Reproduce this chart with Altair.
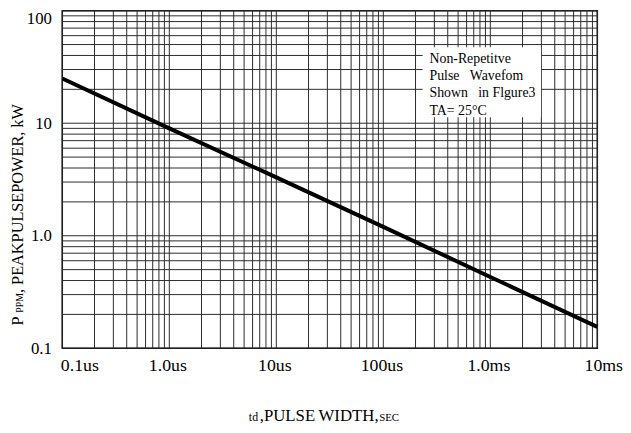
import altair as alt
import pandas as pd

# ---- data ----
pulse_width_s = [1e-7, 1e-6, 1e-5, 1e-4, 1e-3, 1e-2]
peak_power_kw = [25.0, 9.0, 3.3, 1.2, 0.43, 0.155]

x_decades = [1e-7, 1e-6, 1e-5, 1e-4, 1e-3, 1e-2]
x_labels = ["0.1us", "1.0us", "10us", "100us", "1.0ms", "10ms"]
y_decades = [0.1, 1.0, 10.0, 100.0]
y_labels = ["0.1", "1.0", "10", "100"]
minor_multiples = [1, 2, 3, 4, 5, 6, 7, 8, 9]

note_lines = [
    "Non-Repetitve",
    "Pulse\u00a0\u00a0\u00a0Wavefom",
    "Shown\u00a0\u00a0\u00a0in Flgure3",
    "TA= 25\u00b0C",
]

x_grid = [m * d for d in x_decades[:-1] for m in minor_multiples] + [x_decades[-1]]
y_grid = [m * d for d in y_decades[:-1] for m in minor_multiples] + [y_decades[-1]]

SERIF = "Liberation Serif"
W, H = 542, 342


def label_expr(values, labels):
    parts = []
    for v, lab in zip(values[:-1], labels[:-1]):
        parts.append(f"datum.value < {v * 3:.3e} ? '{lab}' : ")
    return "".join(parts) + f"'{labels[-1]}'"


xs = alt.Scale(type="log", domain=[x_decades[0], x_decades[-1]], nice=False)
ys = alt.Scale(type="log", domain=[y_decades[0], y_decades[-1]], nice=False)

x_axis = alt.Axis(
    values=x_decades,
    labelExpr=label_expr(x_decades, x_labels),
    grid=False, ticks=False, domain=False, title=None,
    labelFont=SERIF, labelFontSize=18, labelColor="black",
    labelPadding=8, labelFlush=False, labelOverlap=False,
    labelAlign={"condition": {"test": "datum.value < 2e-7", "value": "left"}, "value": "center"},
    labelOffset={"condition": {"test": "datum.value > 5e-3", "value": 6}, "value": -2},
)
y_axis = alt.Axis(
    values=y_decades,
    labelExpr=label_expr(y_decades, y_labels),
    grid=False, ticks=False, domain=False, title=None,
    labelFont=SERIF, labelFontSize=17, labelColor="black",
    labelPadding=11, labelFlush=False, labelOverlap=False,
    labelBaseline={"condition": {"test": "datum.value > 50", "value": "top"}, "value": "middle"},
)

vgrid = alt.Chart(pd.DataFrame({"gx": x_grid})).mark_rule(color="#2a2a2a", strokeWidth=1).encode(
    x=alt.X("gx:Q", scale=xs, axis=x_axis)
)
hgrid = alt.Chart(pd.DataFrame({"gy": y_grid})).mark_rule(color="#2a2a2a", strokeWidth=1).encode(
    y=alt.Y("gy:Q", scale=ys, axis=y_axis)
)

curve = alt.Chart(pd.DataFrame({"t": pulse_width_s, "p": peak_power_kw})).mark_line(
    color="black", strokeWidth=4, clip=True
).encode(
    x=alt.X("t:Q", scale=xs, axis=x_axis),
    y=alt.Y("p:Q", scale=ys, axis=y_axis),
)

one = pd.DataFrame({"_": [0]})

note_box = alt.Chart(one).mark_rect(color="white").encode(
    x=alt.value(365), x2=alt.value(485), y=alt.value(37), y2=alt.value(108)
)

layers = [vgrid, hgrid, curve, note_box]

for i, line in enumerate(note_lines):
    layers.append(
        alt.Chart(one).mark_text(
            font=SERIF, fontSize=14, align="left", baseline="alphabetic", color="black", text=line
        ).encode(x=alt.value(372), y=alt.value(53 + i * 17.4))
    )


def txt(s, x, y, size, angle=0):
    return alt.Chart(one).mark_text(
        font=SERIF, fontSize=size, align="left", baseline="alphabetic",
        color="black", angle=angle, text=s
    ).encode(x=alt.value(x), y=alt.value(y))


# y-axis title: "P PPM, PEAKPULSEPOWER, kW" (rotated, with small subscript)
layers.append(txt("P", -40, 319, 16.5, 270))
layers.append(txt("PPM", -40, 306, 10, 270))
layers.append(txt(", PEAKPULSEPOWER, kW", -40, 286, 16.5, 270))

# x-axis title: "td ,PULSE WIDTH,SEC"
layers.append(txt("td", 189, 416, 12))
layers.append(txt(",PULSE\u2009WIDTH,", 200, 416, 17))
layers.append(txt("SEC", 321, 416, 11))

chart = alt.layer(*layers).properties(
    width=W, height=H,
    autosize=alt.AutoSizeParams(type="none"),
    padding={"left": 55, "top": 0, "right": 26, "bottom": 76},
).configure_view(stroke="black", strokeWidth=1.5)

chart.save("out.html", embed_options={"renderer": "svg", "actions": False})
